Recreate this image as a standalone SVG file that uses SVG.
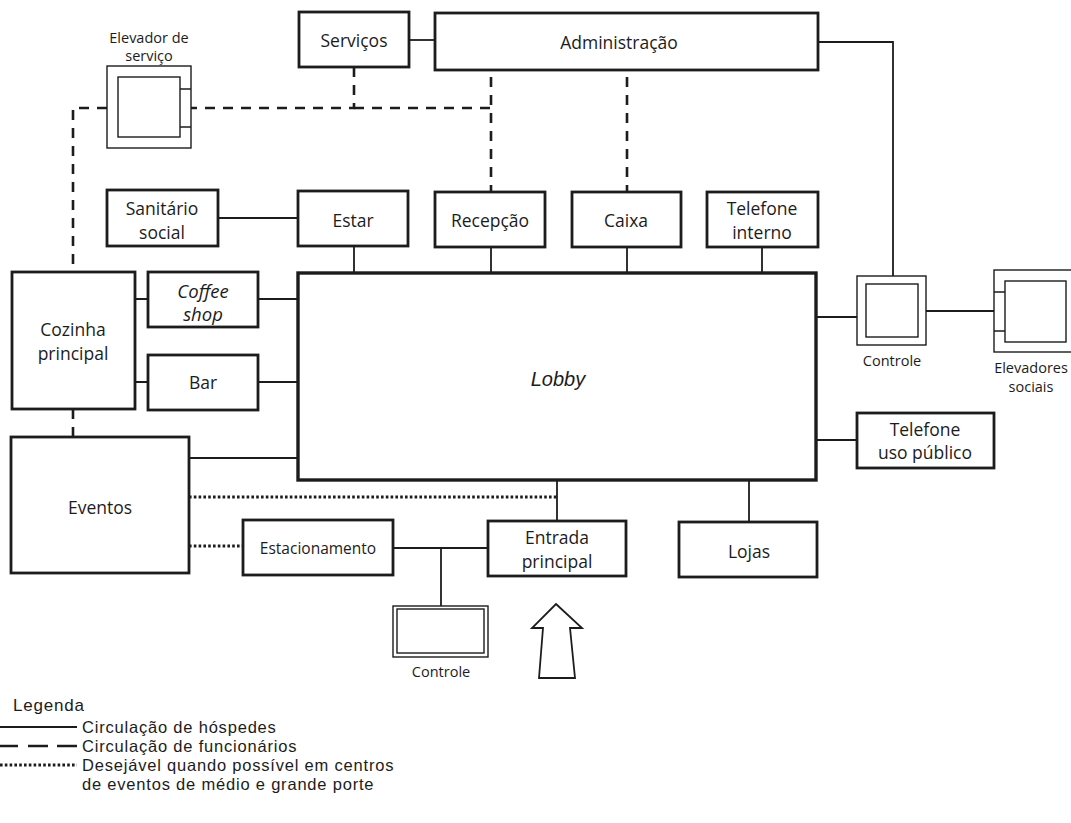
<svg xmlns="http://www.w3.org/2000/svg" width="1071" height="823" viewBox="0 0 1071 823">
  <style>
    .box { fill: #ffffff; stroke: #1c1c1c; stroke-width: 2.8; }
    .thin { fill: #ffffff; stroke: #1c1c1c; stroke-width: 1.4; }
    .lbl { font-family: "Open Sans", "Liberation Sans", sans-serif; font-size: 17.5px; fill: #1c1c1c; text-anchor: middle; dominant-baseline: central; }
    .sm { font-size: 14.5px; }
    .it { font-style: italic; }
    .leg { font-family: "Liberation Sans", Arial, sans-serif; font-size: 16.5px; letter-spacing: 0.8px; fill: #1c1c1c; dominant-baseline: central; }
    .solid { fill: none; stroke: #1c1c1c; stroke-width: 1.8; }
    .dash { fill: none; stroke: #1c1c1c; stroke-width: 2.6; stroke-dasharray: 10 8; }
    .dot { fill: none; stroke: #1c1c1c; stroke-width: 3; stroke-dasharray: 2.6 2.2; }
  </style>
  <rect width="1071" height="823" fill="#ffffff"/>

  <!-- connectors -->
  <g id="connectors">
    <!-- guest circulation -->
    <path class="solid" d="M409 40 H435"/>
    <path class="solid" d="M818 42 H893 V276"/>
    <path class="solid" d="M218 218 H298"/>
    <path class="solid" d="M354 246 V273"/>
    <path class="solid" d="M491 247 V273"/>
    <path class="solid" d="M627 247 V273"/>
    <path class="solid" d="M762 247 V273"/>
    <path class="solid" d="M135 299 H148 M258 299 H298"/>
    <path class="solid" d="M135 382 H148 M258 382 H298"/>
    <path class="solid" d="M189 458 H298"/>
    <path class="solid" d="M816 317 H857"/>
    <path class="solid" d="M926 311 H994"/>
    <path class="solid" d="M816 440 H857"/>
    <path class="solid" d="M557 480 V521"/>
    <path class="solid" d="M749 480 V522"/>
    <path class="solid" d="M393 548 H488"/>
    <path class="solid" d="M441 548 V606"/>
    <!-- staff circulation -->
    <path class="dash" d="M354 67 V108 H191"/>
    <path class="dash" d="M354 108 H491"/>
    <path class="dash" d="M491 77 V192"/>
    <path class="dash" d="M627 77 V192"/>
    <path class="dash" d="M107 108 H73 V272"/>
    <path class="dash" d="M73 409 V437"/>
    <!-- desirable links -->
    <path class="dot" d="M189 497 H557"/>
    <path class="dot" d="M189 546 H243"/>
  </g>

  <!-- nodes -->
  <g id="elevador-servico">
    <rect class="thin" x="107" y="66" width="84" height="82"/>
    <rect class="thin" x="118" y="77" width="62" height="60"/>
    <path class="solid" style="stroke-width:1.3" d="M180 89 H191 M180 127 H191"/>
    <text class="lbl sm" x="149" y="37">Elevador de</text>
    <text class="lbl sm" x="149" y="55">serviço</text>
  </g>
  <g id="servicos">
    <rect class="box" x="299" y="12" width="110" height="55"/>
    <text class="lbl" x="354" y="40">Serviços</text>
  </g>
  <g id="administracao">
    <rect class="box" x="435" y="13" width="383" height="57"/>
    <text class="lbl" x="619" y="42">Administração</text>
  </g>
  <g id="sanitario">
    <rect class="box" x="107" y="190" width="111" height="56"/>
    <text class="lbl" x="162" y="208">Sanitário</text>
    <text class="lbl" x="162" y="232">social</text>
  </g>
  <g id="estar">
    <rect class="box" x="298" y="191" width="110" height="55"/>
    <text class="lbl" x="353" y="220">Estar</text>
  </g>
  <g id="recepcao">
    <rect class="box" x="435" y="192" width="110" height="55"/>
    <text class="lbl" x="490" y="220">Recepção</text>
  </g>
  <g id="caixa">
    <rect class="box" x="572" y="192" width="109" height="55"/>
    <text class="lbl" x="626" y="220">Caixa</text>
  </g>
  <g id="telefone-interno">
    <rect class="box" x="707" y="192" width="111" height="55"/>
    <text class="lbl" x="762" y="208">Telefone</text>
    <text class="lbl" x="762" y="232">interno</text>
  </g>
  <g id="cozinha">
    <rect class="box" x="12" y="272" width="123" height="137"/>
    <text class="lbl" x="73" y="329">Cozinha</text>
    <text class="lbl" x="73" y="353">principal</text>
  </g>
  <g id="coffee-shop">
    <rect class="box" x="148" y="272" width="110" height="55"/>
    <text class="lbl it" style="font-size:18.5px" x="203" y="290">Coffee</text>
    <text class="lbl it" style="font-size:18.5px" x="203" y="313">shop</text>
  </g>
  <g id="bar">
    <rect class="box" x="148" y="355" width="110" height="55"/>
    <text class="lbl" x="203" y="382">Bar</text>
  </g>
  <g id="lobby">
    <rect class="box" style="stroke-width:3.4" x="298" y="273" width="518" height="207"/>
    <text class="lbl it" style="font-family:'Liberation Sans', Arial, sans-serif; font-size:20px" x="558" y="379">Lobby</text>
  </g>
  <g id="controle-social">
    <rect class="thin" x="857" y="276" width="69" height="69"/>
    <rect class="thin" x="866" y="284" width="52" height="53"/>
    <text class="lbl sm" x="892" y="360">Controle</text>
  </g>
  <g id="elevadores-sociais">
    <rect class="thin" x="994" y="270" width="82" height="82"/>
    <rect class="thin" x="1005" y="281" width="61" height="61"/>
    <path class="solid" style="stroke-width:1.3" d="M994 292 H1005 M994 331 H1005"/>
    <text class="lbl sm" x="1031" y="367">Elevadores</text>
    <text class="lbl sm" x="1031" y="386">sociais</text>
  </g>
  <g id="telefone-publico">
    <rect class="box" x="857" y="413" width="137" height="55"/>
    <text class="lbl" x="925" y="429">Telefone</text>
    <text class="lbl" x="925" y="452">uso público</text>
  </g>
  <g id="eventos">
    <rect class="box" x="11" y="437" width="178" height="136"/>
    <text class="lbl" x="100" y="507">Eventos</text>
  </g>
  <g id="estacionamento">
    <rect class="box" x="243" y="520" width="150" height="55"/>
    <text class="lbl" style="font-size:15.5px" x="318" y="548">Estacionamento</text>
  </g>
  <g id="entrada">
    <rect class="box" x="488" y="521" width="138" height="55"/>
    <text class="lbl" x="557" y="537">Entrada</text>
    <text class="lbl" x="557" y="561">principal</text>
  </g>
  <g id="lojas">
    <rect class="box" x="679" y="522" width="138" height="55"/>
    <text class="lbl" x="749" y="551">Lojas</text>
  </g>
  <g id="controle-estacionamento">
    <rect class="thin" x="393" y="606" width="95" height="51"/>
    <rect class="thin" x="397" y="609" width="87" height="44"/>
    <text class="lbl sm" x="441" y="671">Controle</text>
  </g>
  <g id="acesso">
    <path class="thin" style="stroke-width:1.8" d="M556 604 L582 628 L570 628 L575 678 L539 678 L543 628 L532 628 Z"/>
  </g>

  <!-- legend -->
  <g id="legenda">
    <text class="leg" style="font-size:17px" x="13" y="705">Legenda</text>
    <path class="solid" d="M0 727 H77"/>
    <text class="leg" x="82" y="727">Circulação de hóspedes</text>
    <path class="solid" style="stroke-width:2.6" d="M0 746 H18 M28 746 H48 M57 746 H77"/>
    <text class="leg" x="82" y="746">Circulação de funcionários</text>
    <path class="dot" d="M0 765 H77"/>
    <text class="leg" x="82" y="765">Desejável quando possível em centros</text>
    <text class="leg" x="82" y="784">de eventos de médio e grande porte</text>
  </g>
</svg>
